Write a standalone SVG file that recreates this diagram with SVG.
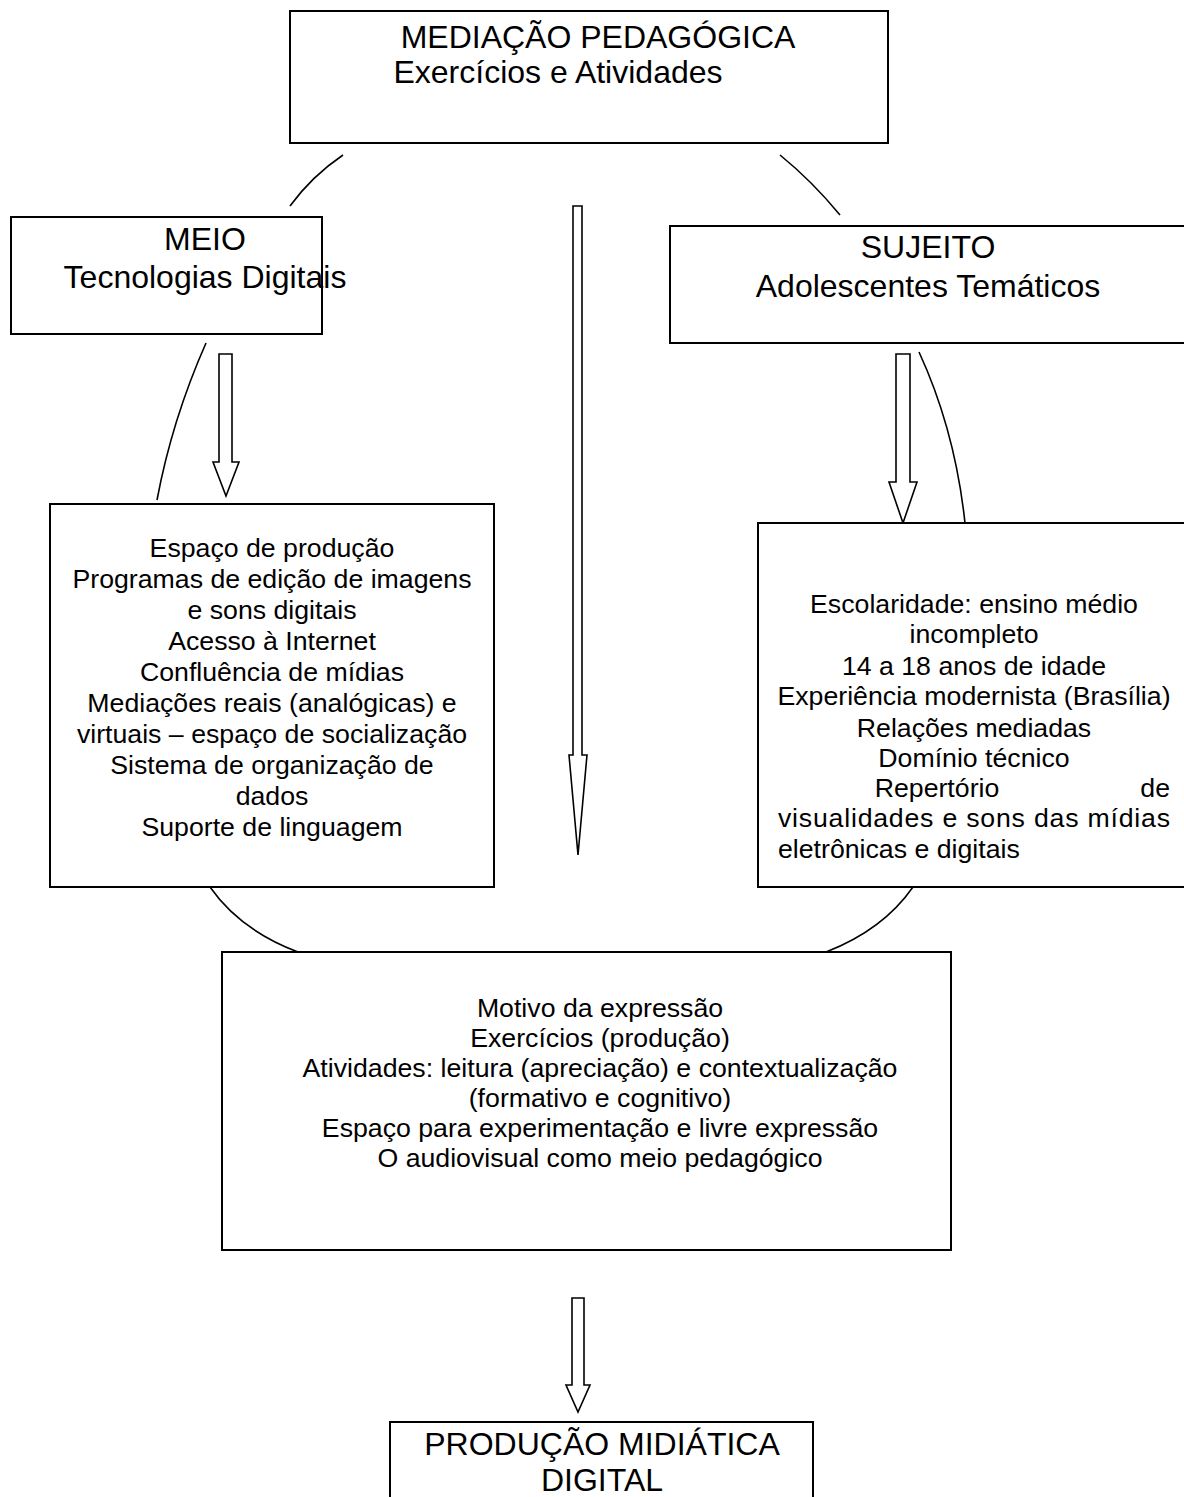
<svg xmlns="http://www.w3.org/2000/svg" width="1184" height="1497" viewBox="0 0 1184 1497">
<style>
.box{fill:#fff;stroke:#000;stroke-width:2}
.arc{fill:none;stroke:#000;stroke-width:1.6}
.arw{fill:#fff;stroke:#000;stroke-width:1.6;stroke-linejoin:miter}
.h{font-family:"Liberation Sans",Arial,sans-serif;font-size:32px;fill:#000;text-anchor:middle}
.t{font-family:"Liberation Sans",Arial,sans-serif;font-size:26.7px;fill:#000;text-anchor:middle}
.l{font-family:"Liberation Sans",Arial,sans-serif;font-size:26.7px;fill:#000}
</style>
<rect width="1184" height="1497" fill="#fff"/>
<g id="connectors">
<path class="arc" d="M290,206 Q312,176 343,155"/>
<path class="arc" d="M780,155 Q812,181 840,215"/>
<path class="arc" d="M206,343 Q172,420 157,500"/>
<path class="arc" d="M919,352 Q955,430 965,523"/>
<path class="arc" d="M210,887 Q240,930 298,952"/>
<path class="arc" d="M913,887 Q883,930 826,952"/>
<path class="arw" d="M219,354 H232 V462 H239 L226,496 L213,462 H219 Z"/>
<path class="arw" d="M896,354 H910 V482 H917 L903,523 L889,482 H896 Z"/>
<path class="arw" d="M573,206 H582 V755 H587 L578,855 L569,755 H573 Z"/>
<path class="arw" d="M572,1298 H584 V1385 H590 L578,1412 L566,1385 H572 Z"/>
</g>
<g id="n-mediacao">
<rect class="box" x="290" y="11" width="598" height="132"/>
<text class="h" x="598" y="48">MEDIAÇÃO PEDAGÓGICA</text>
<text class="h" x="558" y="83">Exercícios e Atividades</text>
</g>
<g id="n-meio">
<rect class="box" x="11" y="217" width="311" height="117"/>
<text class="h" x="205" y="250">MEIO</text>
<text class="h" x="205" y="288">Tecnologias Digitais</text>
</g>
<g id="n-sujeito">
<rect class="box" x="670" y="226" width="520" height="117"/>
<text class="h" x="928" y="258">SUJEITO</text>
<text class="h" x="928" y="297">Adolescentes Temáticos</text>
</g>
<g id="n-espaco">
<rect class="box" x="50" y="504" width="444" height="383"/>
<text class="t" x="272" y="557">Espaço de produção</text>
<text class="t" x="272" y="588">Programas de edição de imagens</text>
<text class="t" x="272" y="619">e sons digitais</text>
<text class="t" x="272" y="650">Acesso à Internet</text>
<text class="t" x="272" y="681">Confluência de mídias</text>
<text class="t" x="272" y="712">Mediações reais (analógicas) e</text>
<text class="t" x="272" y="743">virtuais – espaço de socialização</text>
<text class="t" x="272" y="774">Sistema de organização de</text>
<text class="t" x="272" y="805">dados</text>
<text class="t" x="272" y="836">Suporte de linguagem</text>
</g>
<g id="n-escolaridade">
<rect class="box" x="758" y="523" width="432" height="364"/>
<text class="t" x="974" y="613">Escolaridade: ensino médio</text>
<text class="t" x="974" y="643">incompleto</text>
<text class="t" x="974" y="675">14 a 18 anos de idade</text>
<text class="t" x="974" y="705">Experiência modernista (Brasília)</text>
<text class="t" x="974" y="737">Relações mediadas</text>
<text class="t" x="974" y="767">Domínio técnico</text>
<text class="t" x="937" y="797">Repertório</text>
<text class="l" x="1170" y="797" text-anchor="end">de</text>
<text class="l" x="778" y="827" textLength="392" lengthAdjust="spacing">visualidades e sons das mídias</text>
<text class="l" x="778" y="858">eletrônicas e digitais</text>
</g>
<g id="n-motivo">
<rect class="box" x="222" y="952" width="729" height="298"/>
<text class="t" x="600" y="1017">Motivo da expressão</text>
<text class="t" x="600" y="1047">Exercícios (produção)</text>
<text class="t" x="600" y="1077">Atividades: leitura (apreciação) e contextualização</text>
<text class="t" x="600" y="1107">(formativo e cognitivo)</text>
<text class="t" x="600" y="1137">Espaço para experimentação e livre expressão</text>
<text class="t" x="600" y="1167">O audiovisual como meio pedagógico</text>
</g>
<g id="n-producao">
<rect class="box" x="390" y="1422" width="423" height="90"/>
<text class="h" x="602" y="1455">PRODUÇÃO MIDIÁTICA</text>
<text class="h" x="602" y="1491">DIGITAL</text>
</g>
</svg>
